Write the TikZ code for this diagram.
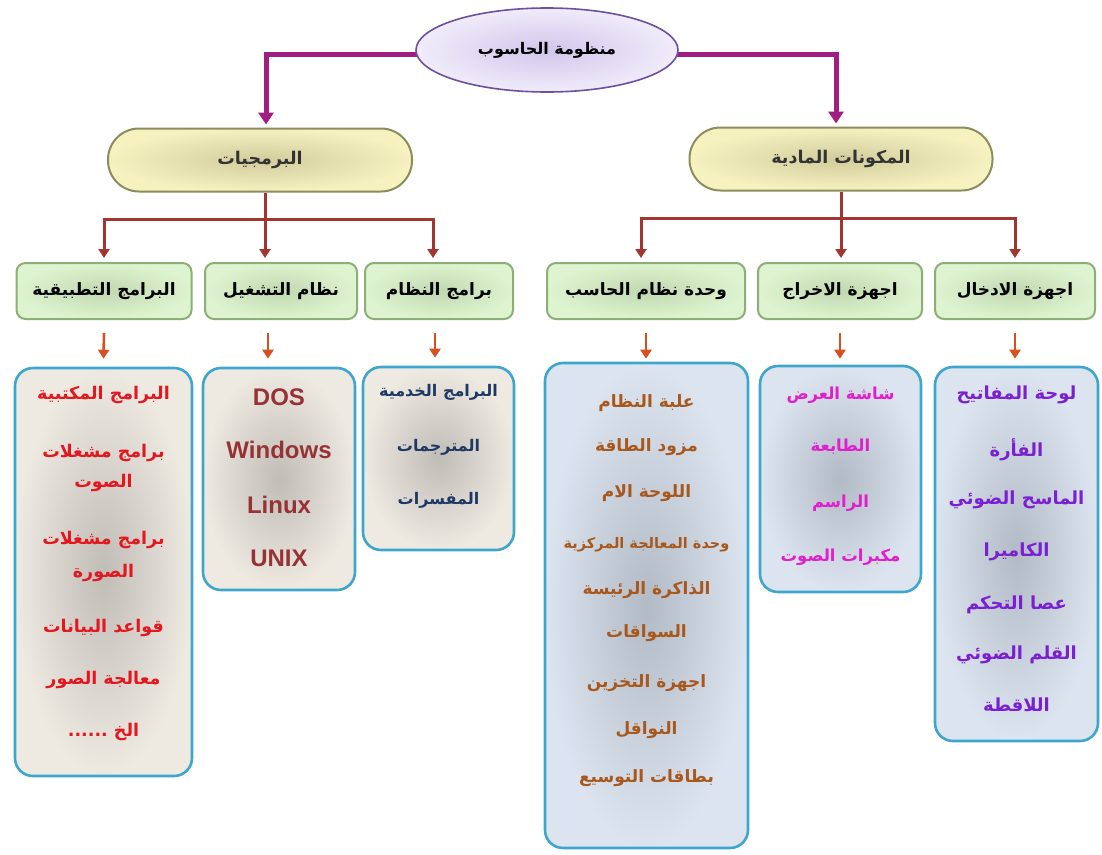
\documentclass[tikz,border=0pt]{standalone}
\usepackage{fontspec}
\setmainfont{Liberation Sans}
\newfontfamily\arabicfont[Script=Arabic]{DejaVu Sans}
\TeXXeTstate=1
\usetikzlibrary{shapes.geometric,arrows.meta}
\newcommand\ar[1]{{\arabicfont\bfseries\beginR #1\endR}}
\newcommand\fs[1]{\fontsize{#1}{#1}\selectfont}
\definecolor{purp}{RGB}{160,30,130}
\definecolor{ellborder}{RGB}{110,80,160}
\definecolor{ellin}{RGB}{210,198,236}
\definecolor{ellout}{RGB}{240,236,250}
\definecolor{yborder}{RGB}{140,140,92}
\definecolor{yin}{RGB}{210,204,156}
\definecolor{yout}{RGB}{246,242,192}
\definecolor{gborder}{RGB}{140,175,120}
\definecolor{gin}{RGB}{192,216,176}
\definecolor{gout}{RGB}{222,244,208}
\definecolor{bborder}{RGB}{62,166,204}
\definecolor{bein}{RGB}{192,188,182}
\definecolor{beout}{RGB}{238,234,226}
\definecolor{blin}{RGB}{178,186,198}
\definecolor{blout}{RGB}{220,228,240}
\definecolor{brownc}{RGB}{163,52,48}
\definecolor{orangec}{RGB}{214,80,32}
\definecolor{tA}{RGB}{228,22,30}
\definecolor{tB}{RGB}{150,50,52}
\definecolor{tC}{RGB}{30,56,100}
\definecolor{tD}{RGB}{168,88,28}
\definecolor{tE}{RGB}{226,30,206}
\definecolor{tF}{RGB}{122,32,210}
\tikzset{
  topell/.style={ellipse, draw=ellborder, line width=1.6pt, inner color=ellin, outer color=ellout,
    minimum width=262pt, minimum height=84pt, inner sep=0pt, font=\fs{16}},
  lvlone/.style={rectangle, rounded corners=31pt, draw=yborder, line width=2pt, inner color=yin, outer color=yout,
    minimum height=63pt, inner sep=0pt, text=black!80, font=\fs{17.5}},
  lvltwo/.style={rectangle, rounded corners=9pt, draw=gborder, line width=2pt, inner color=gin, outer color=gout,
    minimum height=56pt, inner sep=0pt, font=\fs{17}},
  leafbox/.style={rectangle, rounded corners=18pt, draw=bborder, line width=2.6pt, inner sep=0pt},
  beige/.style={leafbox, inner color=bein, outer color=beout},
  bluish/.style={leafbox, inner color=blin, outer color=blout},
  txA/.style={text=tA, inner sep=0pt, font=\fs{17.5}},
  txB/.style={text=tB, inner sep=0pt, font=\fs{24}\bfseries},
  txC/.style={text=tC, inner sep=0pt, font=\fs{16}},
  txD/.style={text=tD, inner sep=0pt, font=\fs{17}},
  txE/.style={text=tE, inner sep=0pt, font=\fs{16.5}},
  txF/.style={text=tF, inner sep=0pt, font=\fs{18}},
  purpconn/.style={draw=purp, line width=5pt, -{Triangle[width=15pt,length=12pt]}, shorten >=3pt},
  brownline/.style={draw=brownc, line width=3pt},
  brownarrow/.style={draw=brownc, line width=3pt, -{Triangle[width=11pt,length=9pt]}, shorten >=4pt},
  orangearrow/.style={draw=orangec, line width=2.6pt, -{Triangle[width=11pt,length=9pt]}}
}
\begin{document}
\begin{tikzpicture}[x=1pt,y=-1pt]
\useasboundingbox (0,0) rectangle (1102,854);
\fill[white] (0,0) rectangle (1102,854);

% level 1
\node[lvlone, minimum width=304pt] (soft) at (260,160) {\ar{البرمجيات}};
\node[lvlone, minimum width=303pt] (hard) at (841,159) {\ar{المكونات المادية}};

% level 2
\node[lvltwo, minimum width=175pt] (l2a) at (104,291) {\ar{البرامج التطبيقية}};
\node[lvltwo, minimum width=152pt] (l2b) at (281,291) {\ar{نظام التشغيل}};
\node[lvltwo, minimum width=148pt] (l2c) at (439,291) {\ar{برامج النظام}};
\node[lvltwo, minimum width=198pt] (l2d) at (646,291) {\ar{وحدة نظام الحاسب}};
\node[lvltwo, minimum width=164pt] (l2e) at (840,291) {\ar{اجهزة الاخراج}};
\node[lvltwo, minimum width=160pt] (l2f) at (1015,291) {\ar{اجهزة الادخال}};

% level 3 boxes
\node[beige, minimum width=177pt, minimum height=408pt] (l3a) at (103.5,572) {};
\node[beige, minimum width=152pt, minimum height=222pt] (l3b) at (279,479) {};
\node[beige, minimum width=151pt, minimum height=183pt] (l3c) at (438.5,458.5) {};
\node[bluish, minimum width=203pt, minimum height=485pt] (l3d) at (646.5,605.5) {};
\node[bluish, minimum width=161pt, minimum height=226pt] (l3e) at (840.5,479) {};
\node[bluish, minimum width=163pt, minimum height=374pt] (l3f) at (1016.5,554) {};

% texts box A
\node[txA] (a1) at (103.5,395) {\ar{البرامج المكتبية}};
\node[txA] (a2) at (103.5,453) {\ar{برامج مشغلات}};
\node[txA] (a3) at (103.5,483) {\ar{الصوت}};
\node[txA] (a4) at (103.5,540) {\ar{برامج مشغلات}};
\node[txA] (a5) at (103.5,573) {\ar{الصورة}};
\node[txA] (a6) at (103.5,628) {\ar{قواعد البيانات}};
\node[txA] (a7) at (103.5,680) {\ar{معالجة الصور}};
\node[txA] (a8) at (103.5,732) {\ar{الخ ......}};

% texts box B
\node[txB] (b1) at (279,397) {DOS};
\node[txB] (b2) at (279,450) {Windows};
\node[txB] (b3) at (279,505) {Linux};
\node[txB] (b4) at (279,558) {UNIX};

% texts box C
\node[txC] (c1) at (438.5,392) {\ar{البرامج الخدمية}};
\node[txC] (c2) at (438.5,447) {\ar{المترجمات}};
\node[txC] (c3) at (438.5,500) {\ar{المفسرات}};

% texts box D
\node[txD] (d1) at (646.5,403) {\ar{علبة النظام}};
\node[txD] (d2) at (646.5,447) {\ar{مزود الطاقة}};
\node[txD] (d3) at (646.5,493) {\ar{اللوحة الام}};
\node[txD, font=\fs{14.5}] (d4) at (646.5,545) {\ar{وحدة المعالجة المركزية}};
\node[txD] (d5) at (646.5,590) {\ar{الذاكرة الرئيسة}};
\node[txD] (d6) at (646.5,633) {\ar{السواقات}};
\node[txD] (d7) at (646.5,683) {\ar{اجهزة التخزين}};
\node[txD] (d8) at (646.5,730) {\ar{النواقل}};
\node[txD] (d9) at (646.5,778) {\ar{بطاقات التوسيع}};

% texts box E
\node[txE] (e1) at (840.5,395) {\ar{شاشة العرض}};
\node[txE] (e2) at (840.5,447) {\ar{الطابعة}};
\node[txE] (e3) at (840.5,503) {\ar{الراسم}};
\node[txE] (e4) at (840.5,557) {\ar{مكبرات الصوت}};

% texts box F
\node[txF] (f1) at (1016.5,395) {\ar{لوحة المفاتيح}};
\node[txF] (f2) at (1016.5,450) {\ar{الفأرة}};
\node[txF] (f3) at (1016.5,500) {\ar{الماسح الضوئي}};
\node[txF] (f4) at (1016.5,552) {\ar{الكاميرا}};
\node[txF] (f5) at (1016.5,605) {\ar{عصا التحكم}};
\node[txF] (f6) at (1016.5,655) {\ar{القلم الضوئي}};
\node[txF] (f7) at (1016.5,705) {\ar{اللاقطة}};

% connectors root -> level 1
\path[purpconn] (547,54) coordinate (rl) -| ([xshift=6pt]soft.north);
\path[purpconn] (547,54) coordinate (rr) -| ([xshift=-5pt]hard.north);

% root on top
\node[topell] (root) at (547,50) {\ar{منظومة الحاسوب}};

% level 1 -> level 2
\draw[brownline] ([xshift=5pt]soft.south) -- ++(0,27) coordinate (sj);
\draw[brownarrow] (sj) -| (l2a.north);
\draw[brownarrow] (sj) -| ([xshift=-6pt]l2c.north);
\draw[brownarrow] (sj) -- (sj |- l2b.north);
\draw[brownline] (hard.south) -- ++(0,27) coordinate (hj);
\draw[brownarrow] (hj) -| ([xshift=-5pt]l2d.north);
\draw[brownarrow] (hj) -| (l2f.north);
\draw[brownarrow] (hj) -- (hj |- l2e.north);

% level 2 -> level 3
\draw[orangearrow] ([yshift=-13pt]l2a.south) -- ([yshift=8pt]l3a.north);
\draw[orangearrow] ([xshift=-13pt,yshift=-13pt]l2b.south) -- ([xshift=-11pt,yshift=8pt]l3b.north);
\draw[orangearrow] ([xshift=-4pt,yshift=-13pt]l2c.south) -- ([xshift=-3.5pt,yshift=8pt]l3c.north);
\draw[orangearrow] ([yshift=-13pt]l2d.south) -- ([xshift=-0.5pt,yshift=3pt]l3d.north);
\draw[orangearrow] ([yshift=-13pt]l2e.south) -- ([xshift=-0.5pt,yshift=6pt]l3e.north);
\draw[orangearrow] ([yshift=-13pt]l2f.south) -- ([xshift=-1.5pt,yshift=7pt]l3f.north);
\end{tikzpicture}
\end{document}
